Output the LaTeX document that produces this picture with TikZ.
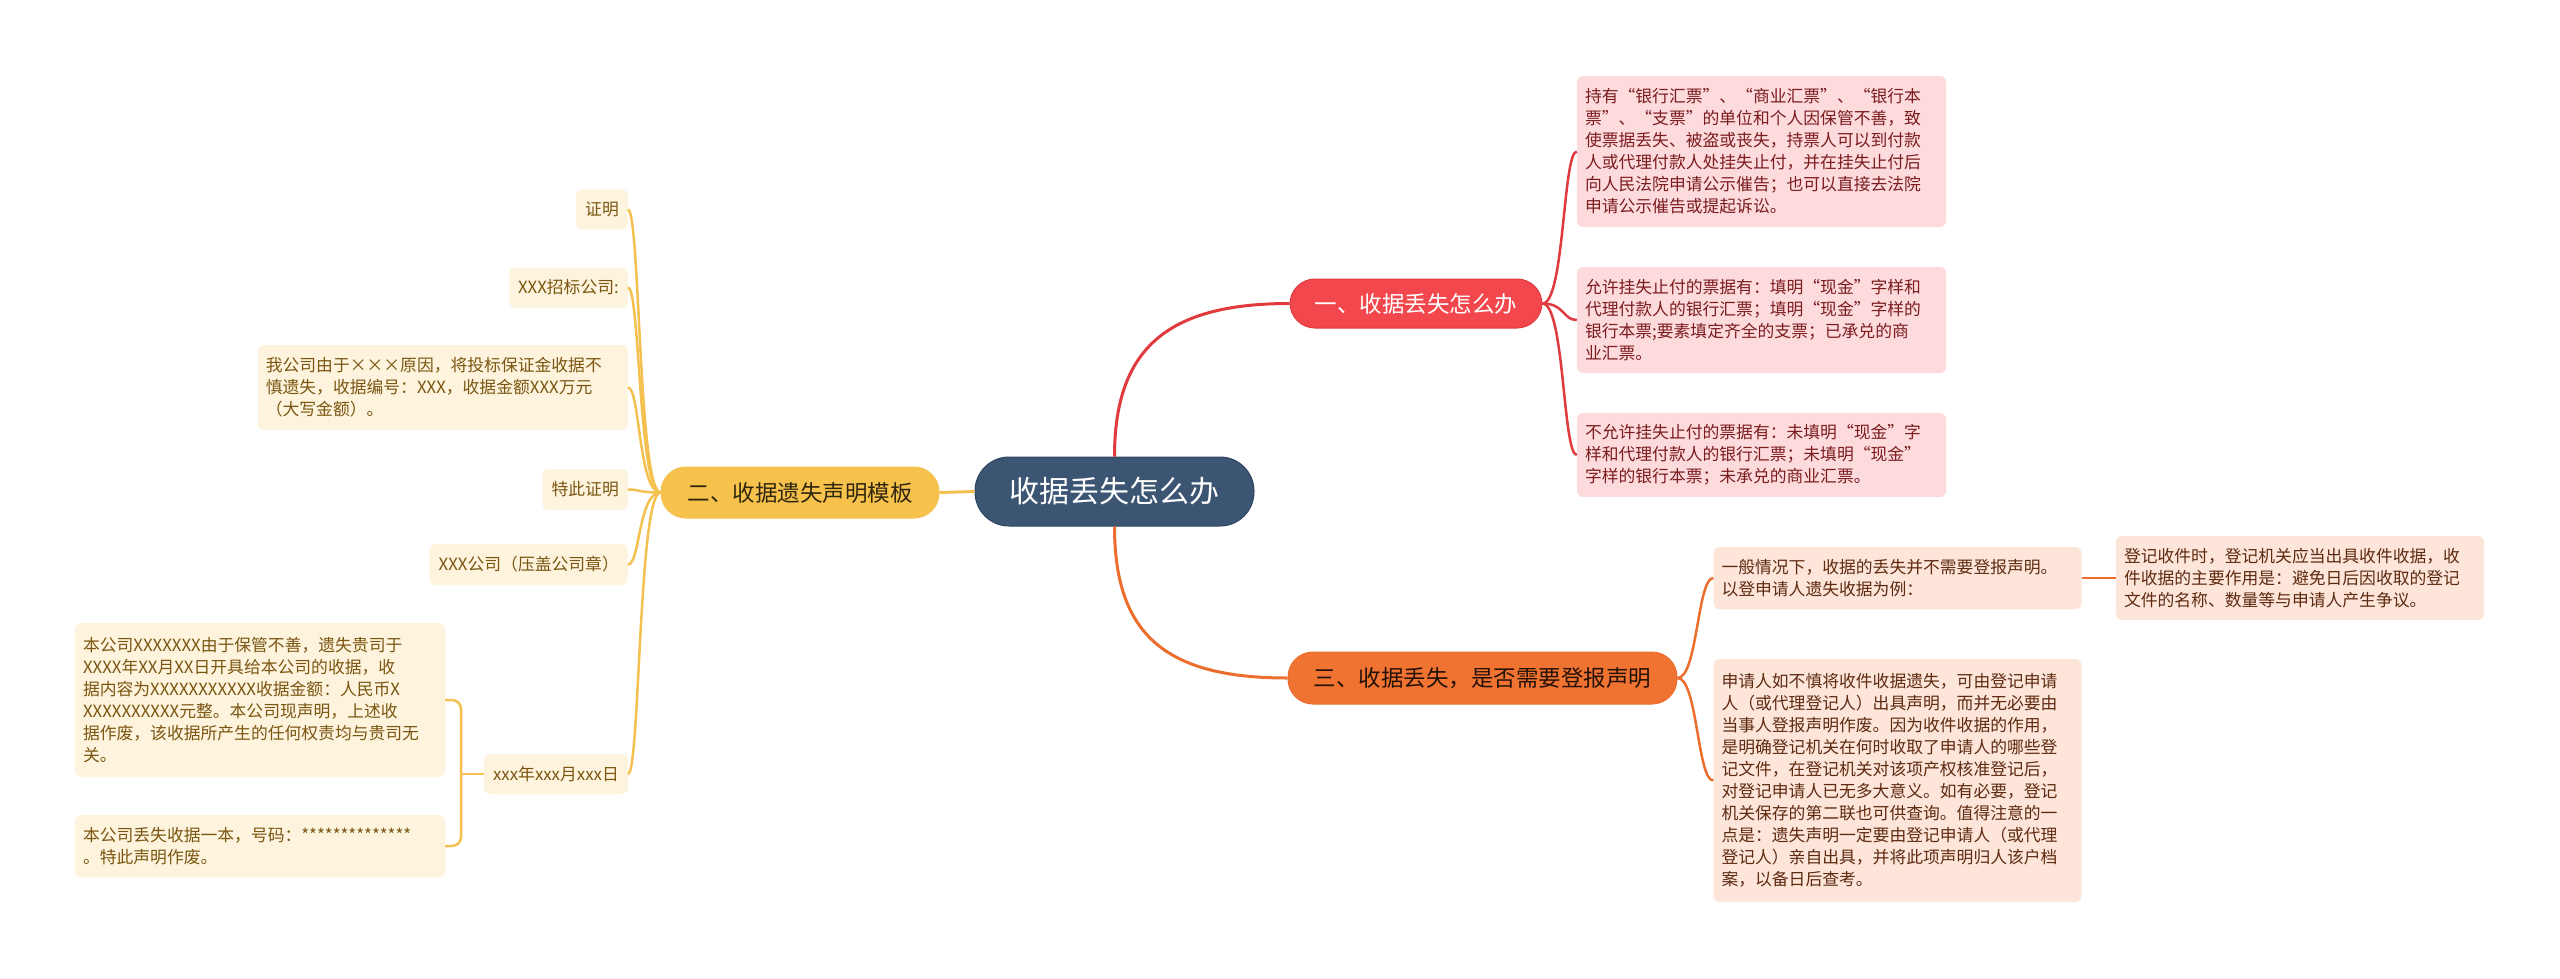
\documentclass[tikz,border=0pt]{standalone}
\usepackage{fontspec}
\setmainfont{Noto Sans CJK SC}
\newcommand{\Lq}{\makebox[1em][r]{“}}
\newcommand{\Rq}{\makebox[1em][l]{”}}
\definecolor{rootfill}{HTML}{3B5573}
\definecolor{rootline}{HTML}{2F4560}
\definecolor{redfill}{HTML}{F2474C}
\definecolor{redline}{HTML}{E03A3F}
\definecolor{orangefill}{HTML}{F07331}
\definecolor{orangeline}{HTML}{EC6E2D}
\definecolor{yellowfill}{HTML}{F7C24C}
\definecolor{yellowline}{HTML}{F4C150}
\definecolor{pinkfill}{HTML}{FDDBDD}
\definecolor{pinktext}{HTML}{7B1C1F}
\definecolor{peachfill}{HTML}{FDE5DA}
\definecolor{peachtext}{HTML}{5E2A10}
\definecolor{creamfill}{HTML}{FEF3DC}
\definecolor{creamtext}{HTML}{7A5612}
\begin{document}
\begin{tikzpicture}[x=1pt,y=-1pt,
  rootbox/.style={fill=rootfill, draw=rootline, line width=1pt, rounded corners=34pt, text=white,
    minimum width=279pt, minimum height=69pt, inner sep=0pt, font=\fontsize{30}{34}\selectfont},
  branchbox/.style={rounded corners=25pt, inner sep=0pt, minimum height=50pt, font=\fontsize{22.5}{26}\selectfont},
  leafbase/.style={rounded corners=6pt, inner xsep=8pt, inner ysep=0pt, align=left,
    font=\fontsize{16.8}{22}\selectfont},
  pinkleaf/.style={leafbase, fill=pinkfill, text=pinktext, text width=353pt},
  peachleaf/.style={leafbase, fill=peachfill, text=peachtext, text width=352pt},
  creamleaf/.style={leafbase, fill=creamfill, text=creamtext, text width=354pt},
  creamsmall/.style={leafbase, fill=creamfill, text=creamtext, inner xsep=9pt, minimum height=40pt},
  cred/.style={draw=redline, line width=2.5pt},
  corange/.style={draw=orangeline, line width=2.5pt},
  cyellow/.style={draw=yellowline, line width=2.5pt}
]
\useasboundingbox[fill=white] (0,0) rectangle (2560,978);

% root and branches
\node[rootbox] (root) at (1114.5,491.5) {收据丢失怎么办};
\node[branchbox, fill=redfill, draw=redline, line width=1pt, text=white, minimum width=252pt, minimum height=49pt]
  (b1) at (1416,303.5) {一、收据丢失怎么办};
\node[branchbox, fill=orangefill, draw=orangeline, line width=1pt, text={black!85!orangefill}, minimum width=389pt, minimum height=52pt]
  (b3) at (1482.5,678) {三、收据丢失，是否需要登报声明};
\node[branchbox, fill=yellowfill, draw=yellowline, line width=1pt, text={black!80!yellowfill}, minimum width=278pt, minimum height=51pt]
  (b2) at (800,492.5) {二、收据遗失声明模板};

% branch 1 leaves
\node[pinkleaf, minimum height=151pt] (l1a) at (1761.5,151.5)
  {持有\Lq 银行汇票\Rq 、\Lq 商业汇票\Rq 、\Lq 银行本\\票\Rq 、\Lq 支票\Rq 的单位和个人因保管不善，致\\使票据丢失、被盗或丧失，持票人可以到付款\\人或代理付款人处挂失止付，并在挂失止付后\\向人民法院申请公示催告；也可以直接去法院\\申请公示催告或提起诉讼。};
\node[pinkleaf, minimum height=106pt] (l1b) at (1761.5,320)
  {允许挂失止付的票据有：填明\Lq 现金\Rq 字样和\\代理付款人的银行汇票；填明\Lq 现金\Rq 字样的\\银行本票;要素填定齐全的支票；已承兑的商\\业汇票。};
\node[pinkleaf, minimum height=84pt] (l1c) at (1761.5,455)
  {不允许挂失止付的票据有：未填明\Lq 现金\Rq 字\\样和代理付款人的银行汇票；未填明\Lq 现金\Rq\\字样的银行本票；未承兑的商业汇票。};

% branch 3 leaves
\node[peachleaf, minimum height=62pt] (l3a) at (1897.5,578)
  {一般情况下，收据的丢失并不需要登报声明。\\以登申请人遗失收据为例：};
\node[peachleaf, minimum height=243pt] (l3b) at (1897.5,780.5)
  {申请人如不慎将收件收据遗失，可由登记申请\\人（或代理登记人）出具声明，而并无必要由\\当事人登报声明作废。因为收件收据的作用，\\是明确登记机关在何时收取了申请人的哪些登\\记文件，在登记机关对该项产权核准登记后，\\对登记申请人已无多大意义。如有必要，登记\\机关保存的第二联也可供查询。值得注意的一\\点是：遗失声明一定要由登记申请人（或代理\\登记人）亲自出具，并将此项声明归人该户档\\案，以备日后查考。};
\node[peachleaf, minimum height=84pt] (l3c) at (2300,578)
  {登记收件时，登记机关应当出具收件收据，收\\件收据的主要作用是：避免日后因收取的登记\\文件的名称、数量等与申请人产生争议。};

% branch 2 leaves
\node[creamsmall, anchor=east] (l2a) at (628,209.5) {证明};
\node[creamsmall, anchor=east] (l2b) at (628,287.5) {XXX招标公司:};
\node[creamleaf, minimum height=85pt, anchor=east] (l2c) at (628,387.5)
  {我公司由于×××原因，将投标保证金收据不\\慎遗失，收据编号：XXX，收据金额XXX万元\\（大写金额）。};
\node[creamsmall, anchor=east, minimum height=41pt] (l2d) at (628,489.5) {特此证明};
\node[creamsmall, anchor=east, minimum height=41pt] (l2e) at (628,564.5) {XXX公司（压盖公司章）};
\node[creamsmall, anchor=east] (l2f) at (628,774) {xxx年xxx月xxx日};
\node[creamleaf, minimum height=154pt] (l2g) at (260,700)
  {本公司XXXXXXX由于保管不善，遗失贵司于\\XXXX年XX月XX日开具给本公司的收据，收\\据内容为XXXXXXXXXXX收据金额：人民币X\\XXXXXXXXXX元整。本公司现声明，上述收\\据作废，该收据所产生的任何权责均与贵司无\\关。};
\node[creamleaf, minimum height=62pt] (l2h) at (260,846)
  {本公司丢失收据一本，号码：**************\\。特此声明作废。};

% connectors root -> branches
\draw[cred, line width=3pt] (root.north) .. controls +(0,-110) and +(-120,0) .. (b1.west);
\draw[corange, line width=3pt] (root.south) .. controls +(0,110) and +(-120,0) .. (b3.west);
\draw[cyellow, line width=3pt] (root.west) -- (b2.east);

% branch 1 -> leaves
\foreach \l in {l1a,l1b,l1c}
  \draw[cred] (b1.east) .. controls +(22,0) and +(-14,0) .. (\l.west);

% branch 3 -> leaves
\foreach \l in {l3a,l3b}
  \draw[corange] (b3.east) .. controls +(20,0) and +(-16,0) .. (\l.west);
\draw[corange] (l3a.east) -- (l3c.west);

% branch 2 -> leaves
\foreach \l in {l2a,l2b,l2c,l2d,l2e,l2f}
  \draw[cyellow] (b2.west) .. controls +(-22,0) and +(12,0) .. (\l.east);

% date -> statements (bracket)
\coordinate (j2) at (461,774);
\draw[cyellow, rounded corners=9pt] (l2g.east) -| (j2) |- (l2h.east);
\draw[cyellow] (l2f.west) -- (j2);
\end{tikzpicture}
\end{document}
